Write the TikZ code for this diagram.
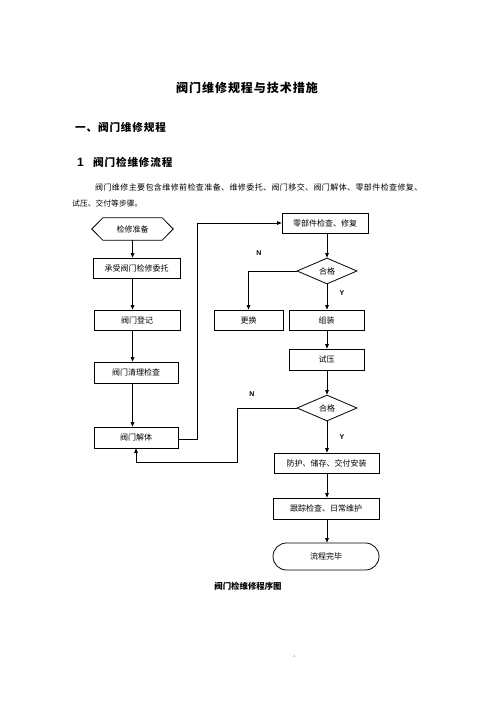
\documentclass[tikz,border=0pt]{standalone}
\usepackage{fontspec}
\newfontfamily\cjk{Noto Sans CJK SC}
\newfontfamily\cjkls[LetterSpace=8]{Noto Sans CJK SC}
\newfontfamily\cjkp[LetterSpace=5]{Noto Sans CJK SC}
\newfontfamily\arialf{Liberation Sans}
\usetikzlibrary{arrows.meta,shapes.geometric,shapes.misc}
\begin{document}
\begin{tikzpicture}[x=1pt,y=-1pt,
  box/.style={draw, line width=0.8pt, inner sep=0pt, minimum height=20pt, font=\cjk\fontsize{8}{9}\selectfont},
  dia/.style={diamond, draw, line width=0.8pt, inner sep=0pt, minimum width=60pt, minimum height=26pt, font=\cjk\fontsize{8}{9}\selectfont},
  arr/.style={-{Triangle[length=4.5pt,width=3.6pt]}, line width=0.8pt},
  yn/.style={font=\arialf\bfseries\fontsize{7}{8}\selectfont},
  tiny/.style={font=\arialf\fontsize{4}{5}\selectfont, text=black!50}]
\useasboundingbox (0,0) rectangle (496,702);
% header / footer marks
\node[tiny] (hd) at (247,38) {.};
\node[tiny] (ft1) at (199,657) {.};
\node[tiny] (ft2) at (295,656) {z.};
% titles
\node[font=\cjkls\bfseries\fontsize{12}{14}\selectfont] (title) at (247,88) {阀门维修规程与技术措施};
\node[anchor=west, font=\cjkls\bfseries\fontsize{10.6}{12}\selectfont, inner sep=0pt] (h1) at (75,127) {一、阀门维修规程};
\node[anchor=west, font=\arialf\bfseries\fontsize{12}{14}\selectfont, inner sep=0pt] (h2n) at (77,162) {1};
\node[anchor=west, font=\cjkls\bfseries\fontsize{10.6}{12}\selectfont, inner sep=0pt] (h2) at (93,162) {阀门检维修流程};
\node[anchor=west, font=\cjkp\fontsize{8}{9}\selectfont, inner sep=0pt] (p1) at (95,187) {阀门维修主要包含维修前检查准备、维修委托、阀门移交、阀门解体、零部件检查修复、};
\node[anchor=west, font=\cjk\fontsize{7.8}{9}\selectfont, inner sep=0pt] (p2) at (72,204) {试压、交付等步骤。};
% left column
\node[minimum width=81pt, minimum height=22pt, inner sep=0pt, font=\cjk\fontsize{8}{9}\selectfont] (prep) at (132.5,229) {检修准备};
\draw[line width=0.8pt] ([xshift=11pt]prep.north west) -- ([xshift=-11pt]prep.north east) -- (prep.east)
  -- ([xshift=-11pt]prep.south east) -- ([xshift=11pt]prep.south west) -- (prep.west) -- cycle;
\node[box, minimum width=87pt] (wt) at (136.5,268) {承受阀门检修委托};
\node[box, minimum width=86pt] (dj) at (137,320) {阀门登记};
\node[box, minimum width=84pt, minimum height=21pt] (ql) at (136,372.5) {阀门清理检查};
\node[box, minimum width=84pt, minimum height=21pt] (jt) at (136,437.5) {阀门解体};
% right column
\node[box, minimum width=86pt] (lbj) at (325,223) {零部件检查、修复};
\node[dia] (d1) at (327,271) {合格};
\node[box, minimum width=69pt] (gh) at (248.5,320) {更换};
\node[box, minimum width=75pt] (zz) at (326.5,320) {组装};
\node[box, minimum width=75pt, minimum height=21pt] (sy) at (326.5,359.5) {试压};
\node[dia] (d2) at (327,408) {合格};
\node[box, minimum width=105pt] (fh) at (326.5,463) {防护、储存、交付安装};
\node[box, minimum width=106pt, minimum height=21pt] (gz) at (326,508.5) {跟踪检查、日常维护};
\node[rounded rectangle, draw, line width=0.8pt, inner sep=0pt, minimum width=106pt, minimum height=27pt, font=\cjk\fontsize{8}{9}\selectfont] (wb) at (326,556.5) {流程完毕};
% caption
\node[font=\cjk\bfseries\fontsize{8.4}{10}\selectfont] (cap) at (248,586) {阀门检维修程序图};
% labels
\node[yn] (n1) at (259,253) {N};
\node[yn] (y1) at (342,293) {Y};
\node[yn] (n2) at (252,394) {N};
\node[yn] (y2) at (342,437) {Y};
% connectors left
\draw[arr] (prep.south) -- (prep.south |- wt.north);
\draw[arr] (prep.south |- wt.south) -- (prep.south |- dj.north);
\draw[arr] (prep.south |- dj.south) -- (prep.south |- ql.north);
\draw[arr] (prep.south |- ql.south) -- (prep.south |- jt.north);
\coordinate (c1) at (197,439);
\draw[arr] (jt.east |- c1) -- (c1) |- (lbj.west);
% connectors right
\draw[arr] (d1.north |- lbj.south) -- (d1.north);
\draw[arr] (d1.west) -| (gh.north);
\draw[arr] (d1.south) -- (d1.south |- zz.north);
\draw[arr] (d1.south |- zz.south) -- (d1.south |- sy.north);
\draw[arr] (d2.north |- sy.south) -- (d2.north);
\coordinate (c2) at (237,462);
\draw[arr] (d2.west) -| (c2) -| (jt.south);
\draw[arr] (d2.south) -- (d2.south |- fh.north);
\draw[arr] (d2.south |- fh.south) -- (d2.south |- gz.north);
\draw[arr] (d2.south |- gz.south) -- (d2.south |- wb.north);
\end{tikzpicture}
\end{document}
